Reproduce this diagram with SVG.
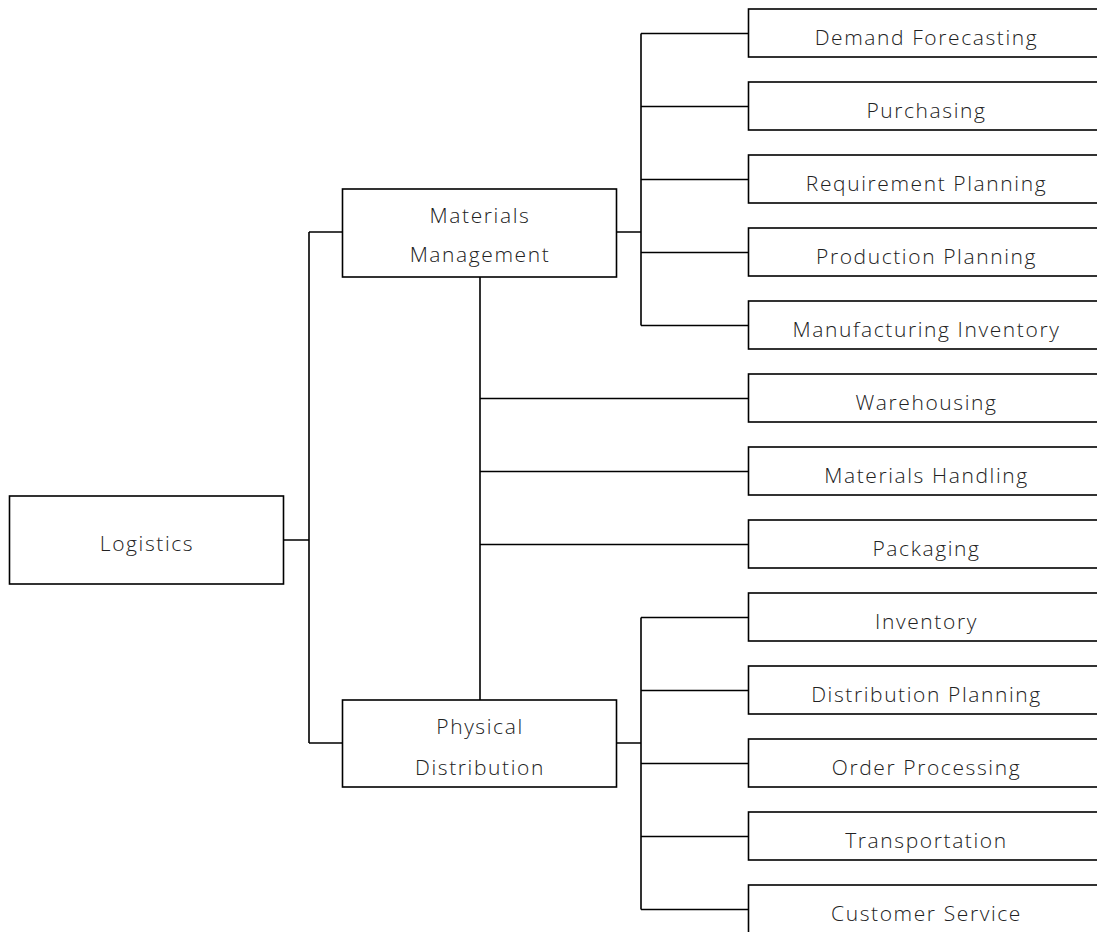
<svg xmlns="http://www.w3.org/2000/svg" width="1097" height="932" viewBox="0 0 1097 932">
<style>
rect{fill:#fff;stroke:#000;stroke-width:1.6}
text{font-family:"Open Sans","Noto Sans",sans-serif;font-size:21px;font-weight:300;letter-spacing:1.6px;fill:#222;text-anchor:middle}
.c{fill:none;stroke:#000;stroke-width:1.6}
</style>
<rect x="0" y="0" width="1097" height="932" style="stroke:none"/>
<g id="connectors" class="c">
<path class="c" d="M284 540H309M309 232V743M309 232H343M309 743H343"/>
<path class="c" d="M617 232H641M641 33.5V325.5M641 33.5H748.5M641 106.5H748.5M641 179.5H748.5M641 252.5H748.5M641 325.5H748.5"/>
<path class="c" d="M480 277V700M480 398.5H748.5M480 471.5H748.5M480 544.5H748.5"/>
<path class="c" d="M617 743H641M641 617.5V909.5M641 617.5H748.5M641 690.5H748.5M641 763.5H748.5M641 836.5H748.5M641 909.5H748.5"/>
</g>
<g id="logistics"><rect x="9.5" y="496" width="274" height="88"/><text x="147" y="551">Logistics</text></g>
<g id="materials"><rect x="342.5" y="189" width="274" height="88"/><text x="480" y="223">Materials</text><text x="480" y="262">Management</text></g>
<g id="physical"><rect x="342.5" y="700" width="274" height="87"/><text x="480" y="734">Physical</text><text x="480" y="775">Distribution</text></g>
<g id="n1"><rect x="748.5" y="9" width="356" height="48"/><text x="926.5" y="45">Demand Forecasting</text></g>
<g id="n2"><rect x="748.5" y="82" width="356" height="48"/><text x="926.5" y="118">Purchasing</text></g>
<g id="n3"><rect x="748.5" y="155" width="356" height="48"/><text x="926.5" y="191">Requirement Planning</text></g>
<g id="n4"><rect x="748.5" y="228" width="356" height="48"/><text x="926.5" y="264">Production Planning</text></g>
<g id="n5"><rect x="748.5" y="301" width="356" height="48"/><text x="926.5" y="337">Manufacturing Inventory</text></g>
<g id="n6"><rect x="748.5" y="374" width="356" height="48"/><text x="926.5" y="410">Warehousing</text></g>
<g id="n7"><rect x="748.5" y="447" width="356" height="48"/><text x="926.5" y="483">Materials Handling</text></g>
<g id="n8"><rect x="748.5" y="520" width="356" height="48"/><text x="926.5" y="556">Packaging</text></g>
<g id="n9"><rect x="748.5" y="593" width="356" height="48"/><text x="926.5" y="629">Inventory</text></g>
<g id="n10"><rect x="748.5" y="666" width="356" height="48"/><text x="926.5" y="702">Distribution Planning</text></g>
<g id="n11"><rect x="748.5" y="739" width="356" height="48"/><text x="926.5" y="775">Order Processing</text></g>
<g id="n12"><rect x="748.5" y="812" width="356" height="48"/><text x="926.5" y="848">Transportation</text></g>
<g id="n13"><rect x="748.5" y="885" width="356" height="60"/><text x="926.5" y="921">Customer Service</text></g>
</svg>
